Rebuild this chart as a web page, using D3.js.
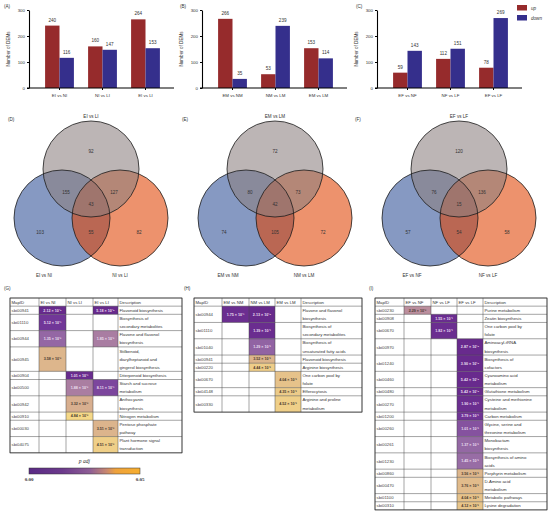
<!DOCTYPE html>
<html>
<head>
<meta charset="utf-8">
<script src="https://cdn.jsdelivr.net/npm/d3@7"></script>
<style>
  body { margin: 0; background: #fff; }
  svg { display: block; font-family: "Liberation Sans", Arial, sans-serif; }
</style>
</head>
<body>
<div id="chart"></div>
<script>
// ---- bar panels (A-C)
var groupsA = ["EI vs NI", "NI vs LI", "EI vs LI"];
var upA = [240, 160, 264];
var downA = [116, 147, 153];
var groupsB = ["EM vs NM", "NM vs LM", "EM vs LM"];
var upB = [266, 53, 153];
var downB = [35, 239, 114];
var groupsC = ["EF vs NF", "NF vs LF", "EF vs LF"];
var upC = [59, 112, 78];
var downC = [143, 151, 269];
var barTicks = [0, 100, 200, 300];
var seriesNames = ["up", "down"];

// ---- venn panels (D-F): [topOnly, topLeft, topRight, center, leftOnly, bottom, rightOnly]
var vennSetsD = ["EI vs LI", "EI vs NI", "NI vs LI"];
var vennCountsD = [92, 155, 127, 43, 103, 55, 82];
var vennSetsE = ["EM vs LM", "EM vs NM", "NM vs LM"];
var vennCountsE = [72, 80, 73, 42, 74, 105, 72];
var vennSetsF = ["EF vs LF", "EF vs NF", "NF vs LF"];
var vennCountsF = [120, 76, 136, 15, 57, 54, 58];

// ---- KEGG tables (G-I)
var headG = ["MapID", "EI vs NI", "NI vs LI", "EI vs LI", "Description"];
var idsG = ["sbi00941", "sbi01110", "sbi00944", "sbi00945", "sbi00904", "sbi00500", "sbi00942", "sbi00910", "sbi00030", "sbi04075"];
var pG = [[2.12e-4, null, 5.18e-4], [5.12e-3, null, null], [1.35e-2, null, 1.85e-2], [3.58e-2, null, null],
  [null, 1.01e-3, null], [null, 1.88e-2, 8.11e-3], [null, 3.32e-2, null], [null, 4.84e-2, null],
  [null, null, 3.51e-2], [null, null, 4.51e-2]];
var descG = ["Flavonoid biosynthesis", "Biosynthesis of|secondary metabolites", "Flavone and flavonol|biosynthesis",
  "Stilbenoid,|diarylheptanoid and|gingerol biosynthesis", "Diterpenoid biosynthesis", "Starch and sucrose|metabolism",
  "Anthocyanin|biosynthesis", "Nitrogen metabolism", "Pentose phosphate|pathway", "Plant hormone signal|transduction"];

var headH = ["MapID", "EM vs NM", "NM vs LM", "EM vs LM", "Description"];
var idsH = ["sbi00944", "sbi01110", "sbi01040", "sbi00941", "sbi00220", "sbi00670", "sbi04148", "sbi00330"];
var pH = [[1.75e-3, 2.13e-4, null], [null, 1.39e-3, null], [null, 1.29e-2, null], [null, 3.52e-2, null],
  [null, 4.44e-2, null], [null, null, 4.04e-2], [null, null, 4.35e-2], [null, null, 4.52e-2]];
var descH = ["Flavone and flavonol|biosynthesis", "Biosynthesis of|secondary metabolites", "Biosynthesis of|unsaturated fatty acids",
  "Flavonoid biosynthesis", "Arginine biosynthesis", "One carbon pool by|folate", "Efferocytosis", "Arginine and proline|metabolism"];

var headI = ["MapID", "EF vs NF", "NF vs LF", "EF vs LF", "Description"];
var idsI = ["sbi00230", "sbi00908", "sbi00670", "sbi00970", "sbi01240", "sbi00460", "sbi00480", "sbi00270",
  "sbi01200", "sbi00260", "sbi00261", "sbi01230", "sbi00860", "sbi00470", "sbi01100", "sbi00310"];
var pI = [[2.29e-2, null, null], [null, 1.55e-3, null], [null, 1.82e-3, null], [null, null, 2.87e-4],
  [null, null, 3.90e-4], [null, null, 5.42e-4], [null, null, 5.42e-4], [null, null, 1.90e-3],
  [null, null, 3.79e-3], [null, null, 1.01e-2], [null, null, 1.37e-2], [null, null, 1.45e-2],
  [null, null, 3.56e-2], [null, null, 3.76e-2], [null, null, 4.04e-2], [null, null, 4.12e-2]];
var descI = ["Purine metabolism", "Zeatin biosynthesis", "One carbon pool by|folate", "Aminoacyl-tRNA|biosynthesis",
  "Biosynthesis of|cofactors", "Cyanoamino acid|metabolism", "Glutathione metabolism", "Cysteine and methionine|metabolism",
  "Carbon metabolism", "Glycine, serine and|threonine metabolism", "Monobactam|biosynthesis", "Biosynthesis of amino|acids",
  "Porphyrin metabolism", "D-Amino acid|metabolism", "Metabolic pathways", "Lysine degradation"];

var legendTicks = [0, 0.05];

var width = 550, height = 515;
var svg = d3.select("#chart").append("svg").attr("width", width).attr("height", height);

var barColor = d3.scaleOrdinal().domain(seriesNames).range(["#962b2c", "#352f8c"]);

function panelLabel(x, y, t) {
  svg.append("text").attr("x", x).attr("y", y).attr("font-size", 4.6).attr("fill", "#333").text(t);
}

// bar chart
function barChart(ax, groups, up, down) {
  var y = d3.scaleLinear().domain([0, 300]).range([88, 10]);
  var x = d3.scaleBand().domain(groups).range([ax + 9, ax + 138]).paddingInner(0.33).paddingOuter(0.165);
  var xs = d3.scaleBand().domain(seriesNames).range([0, x.bandwidth()]);
  var g = svg.append("g");

  var rows = groups.map(function(k, i) { return { key: k, up: up[i], down: down[i] }; });
  var grp = g.selectAll(".grp").data(rows).enter().append("g")
    .attr("transform", function(d) { return "translate(" + x(d.key) + ",0)"; });
  grp.selectAll("rect").data(function(d) { return seriesNames.map(function(s) { return { s: s, v: d[s] }; }); })
    .enter().append("rect")
    .attr("x", function(d) { return xs(d.s); })
    .attr("y", function(d) { return y(d.v); })
    .attr("width", xs.bandwidth())
    .attr("height", function(d) { return y(0) - y(d.v); })
    .attr("fill", function(d) { return barColor(d.s); });
  grp.selectAll("text").data(function(d) { return seriesNames.map(function(s) { return { s: s, v: d[s] }; }); })
    .enter().append("text")
    .attr("x", function(d) { return xs(d.s) + xs.bandwidth() / 2; })
    .attr("y", function(d) { return y(d.v) - 4; })
    .attr("text-anchor", "middle").attr("font-size", 4.6).attr("fill", "#333")
    .text(function(d) { return d.v; });

  var ya = g.append("g").attr("transform", "translate(" + ax + ",0)")
    .call(d3.axisLeft(y).tickValues(barTicks).tickSize(2).tickSizeOuter(0));
  ya.select(".domain").attr("stroke-width", 1.1);
  ya.selectAll("text").attr("font-size", 4.4).attr("fill", "#333").attr("x", -4);

  var xa = g.append("g").attr("transform", "translate(0," + y(0) + ")")
    .call(d3.axisBottom(x).tickSize(2));
  xa.select(".domain").remove();
  xa.append("line").attr("x1", ax - 2).attr("x2", ax + 145).attr("stroke", "#000").attr("stroke-width", 1.1);
  xa.selectAll("text").attr("font-size", 4.4).attr("fill", "#333").attr("y", 6);

  g.append("text").attr("transform", "translate(" + (ax - 19) + "," + ((y(0) + y(300)) / 2) + ") rotate(-90)")
    .attr("text-anchor", "middle").attr("font-size", 4.6).attr("fill", "#333").text("Number of DEMs");
}

barChart(29, groupsA, upA, downA);
barChart(202, groupsB, upB, downB);
barChart(377, groupsC, upC, downC);
panelLabel(4, 8, "(A)");
panelLabel(180, 8, "(B)");
panelLabel(356, 8, "(C)");

// up/down legend
var lg = svg.append("g").attr("transform", "translate(517,5)");
seriesNames.forEach(function(s, i) {
  lg.append("rect").attr("x", 0).attr("y", i * 10).attr("width", 10).attr("height", 5.5).attr("fill", barColor(s));
  lg.append("text").attr("x", 14).attr("y", i * 10 + 4.5).attr("font-size", 4.6).attr("font-style", "italic")
    .attr("fill", "#333").text(s);
});

// venn diagrams
function venn(cx, sets, counts) {
  var r = 48, cy = 169, dy = 49;
  var circles = [
    { name: sets[1], x: cx - 29, y: cy + dy, c: "#2e4f96" },
    { name: sets[2], x: cx + 29, y: cy + dy, c: "#e04404" },
    { name: sets[0], x: cx, y: cy, c: "#8c8080" }
  ];
  var g = svg.append("g");
  g.selectAll("circle.f").data(circles).enter().append("circle")
    .attr("cx", function(d) { return d.x; }).attr("cy", function(d) { return d.y; }).attr("r", r)
    .attr("fill", function(d) { return d.c; }).attr("fill-opacity", 0.58);
  g.selectAll("circle.s").data(circles).enter().append("circle")
    .attr("cx", function(d) { return d.x; }).attr("cy", function(d) { return d.y; }).attr("r", r)
    .attr("fill", "none").attr("stroke", "#1c1c1c").attr("stroke-width", 0.8);

  // region label offsets relative to top circle, in radius units
  var spots = [[0, -0.36], [-0.52, 0.48], [0.48, 0.48], [0, 0.73], [-1.06, 1.33], [0, 1.33], [1.0, 1.33]];
  g.selectAll("text.n").data(counts).enter().append("text")
    .attr("x", function(d, i) { return cx + spots[i][0] * r; })
    .attr("y", function(d, i) { return cy + spots[i][1] * r + 1.6; })
    .attr("text-anchor", "middle").attr("font-size", 4.6).attr("fill", "#333")
    .text(function(d) { return d; });

  g.append("text").attr("x", cx).attr("y", 118).attr("text-anchor", "middle")
    .attr("font-size", 4.6).attr("fill", "#333").text(sets[0]);
  g.append("text").attr("x", cx - 47).attr("y", 277).attr("text-anchor", "middle")
    .attr("font-size", 4.6).attr("fill", "#333").text(sets[1]);
  g.append("text").attr("x", cx + 29).attr("y", 277).attr("text-anchor", "middle")
    .attr("font-size", 4.6).attr("fill", "#333").text(sets[2]);
}

venn(91, vennSetsD, vennCountsD);
venn(275, vennSetsE, vennCountsE);
venn(459, vennSetsF, vennCountsF);
panelLabel(8, 121, "(D)");
panelLabel(182, 121, "(E)");
panelLabel(355, 121, "(F)");

// tables
var cellColor = d3.scaleLinear()
  .domain([0, 0.006, 0.015, 0.025, 0.035, 0.05])
  .range(["#67298c", "#73399a", "#9a70a6", "#c4969a", "#dcb48c", "#f8dc86"]);

var supMap = { "-": "\u207B", "0": "\u2070", "1": "\u00B9", "2": "\u00B2", "3": "\u00B3", "4": "\u2074",
  "5": "\u2075", "6": "\u2076", "7": "\u2077", "8": "\u2078", "9": "\u2079" };
function fmt(v) {
  var e = Math.floor(Math.log10(v));
  var m = v / Math.pow(10, e);
  return m.toFixed(2) + " \u00D7 10" + String(e).split("").map(function(c) { return supMap[c]; }).join("");
}

var lineH = 8.15;
function table(x0, y0, widths, head, ids, pv, descs) {
  var g = svg.append("g");
  var xs = [x0];
  widths.forEach(function(w) { xs.push(xs[xs.length - 1] + w); });
  var rows = ids.map(function(id, i) {
    return { id: id, p: pv[i], lines: descs[i].split("|") };
  });
  var y = y0 + lineH;
  rows.forEach(function(r) { r.y = y; r.h = r.lines.length * lineH; y += r.h; });
  var y1 = y;

  // heat cells
  rows.forEach(function(r) {
    r.p.forEach(function(v, j) {
      if (v == null) return;
      g.append("rect").attr("x", xs[j + 1]).attr("y", r.y).attr("width", widths[j + 1]).attr("height", r.h)
        .attr("fill", cellColor(v));
      g.append("text").attr("x", xs[j + 1] + widths[j + 1] / 2).attr("y", r.y + r.h / 2 + 1.3)
        .attr("text-anchor", "middle").attr("font-size", 3.7).attr("font-weight", "bold")
        .attr("fill", v < 0.02 ? "#eadff0" : "#4a3a30").text(fmt(v));
    });
  });

  // grid
  var gl = g.append("g").attr("stroke", "#4a4a4a").attr("stroke-width", 0.5);
  xs.forEach(function(x) { gl.append("line").attr("x1", x).attr("x2", x).attr("y1", y0).attr("y2", y1); });
  [y0, y0 + lineH].concat(rows.map(function(r) { return r.y + r.h; })).forEach(function(yy) {
    gl.append("line").attr("x1", x0).attr("x2", xs[xs.length - 1]).attr("y1", yy).attr("y2", yy);
  });
  g.append("rect").attr("x", x0).attr("y", y0).attr("width", xs[xs.length - 1] - x0).attr("height", y1 - y0)
    .attr("fill", "none").attr("stroke", "#333").attr("stroke-width", 0.7);

  // header + text
  head.forEach(function(h, j) {
    g.append("text").attr("x", xs[j] + 1.5).attr("y", y0 + lineH / 2 + 1.6)
      .attr("font-size", 4.3).attr("fill", "#333").text(h);
  });
  rows.forEach(function(r) {
    g.append("text").attr("x", x0 + 1.5).attr("y", r.y + r.h / 2 + 1.6)
      .attr("font-size", 4.3).attr("fill", "#444").text(r.id);
    r.lines.forEach(function(l, k) {
      g.append("text").attr("x", xs[4] + 1.5).attr("y", r.y + k * lineH + lineH / 2 + 1.6)
        .attr("font-size", 4.3).attr("fill", "#333").text(l);
    });
  });
}

table(10, 298, [29, 27, 27, 25, 64], headG, idsG, pG, descG);
table(194, 298, [28, 27, 26, 26, 61], headH, idsH, pH, descH);
table(375, 298, [29, 27, 26, 26, 64], headI, idsI, pI, descI);
panelLabel(4, 290, "(G)");
panelLabel(184, 290, "(H)");
panelLabel(369, 290, "(I)");

// p adj colour bar
var lx = d3.scaleLinear().domain([0, 0.05]).range([29, 140]);
var grad = svg.append("defs").append("linearGradient").attr("id", "padj");
[[0, "#5a2a85"], [0.3, "#6c3a8c"], [0.55, "#8e5e95"], [0.7, "#c98870"], [0.78, "#eea23c"], [1, "#f7ae2e"]]
  .forEach(function(s) { grad.append("stop").attr("offset", s[0]).attr("stop-color", s[1]); });
svg.append("rect").attr("x", lx(0)).attr("y", 468).attr("width", lx(0.05) - lx(0)).attr("height", 6)
  .attr("fill", "url(#padj)").attr("stroke", "#333").attr("stroke-width", 0.5);
svg.append("text").attr("x", (lx(0) + lx(0.05)) / 2).attr("y", 463).attr("text-anchor", "middle")
  .attr("font-family", "Liberation Serif, serif").attr("font-style", "italic").attr("font-size", 5.6)
  .attr("fill", "#333").text("p adj");
svg.selectAll("text.lt").data(legendTicks).enter().append("text")
  .attr("x", function(d) { return lx(d); }).attr("y", 480.5).attr("text-anchor", "middle")
  .attr("font-family", "Liberation Serif, serif").attr("font-weight", "bold").attr("font-size", 5)
  .attr("fill", "#333").text(function(d) { return d.toFixed(2); });
</script>
</body>
</html>
